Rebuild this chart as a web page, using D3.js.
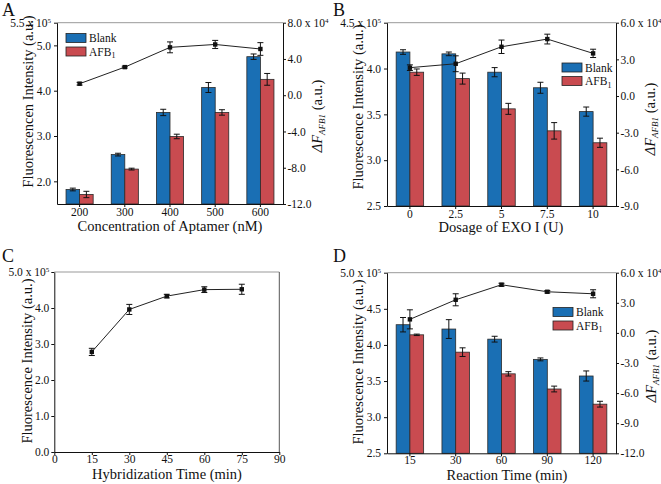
<!DOCTYPE html>
<html><head><meta charset="utf-8">
<script src="https://cdn.jsdelivr.net/npm/d3@7"></script>
<style>
body{margin:0;background:#fff;}
svg text{font-family:"Liberation Serif","DejaVu Serif","Noto Serif",serif !important;fill:#111;}
</style></head><body>
<svg id="chart" width="661" height="484" font-family="Liberation Serif, DejaVu Serif, serif"></svg>
<script>
// ---------- DATA ----------
// Panel A (x10^5 fluorescence; ΔF x10^4)
const catsA = ["200","300","400","500","600"];
const blankA = [1.82, 2.59, 3.52, 4.07, 4.75];
const blankAErr = [0.03, 0.03, 0.07, 0.11, 0.06];
const afbA = [1.71, 2.27, 2.99, 3.52, 4.25];
const afbAErr = [0.07, 0.02, 0.05, 0.06, 0.13];
const diffA = [1.27, 3.1, 5.28, 5.6, 5.1];
const diffAErr = [0.15, 0.1, 0.6, 0.45, 0.7];
const yTicksA = [2.0, 3.0, 4.0, 5.0, 5.5];
const rTicksA = [-12, -8, -4, 0, 4, 8];

// Panel B
const catsB = ["0","2.5","5","7.5","10"];
const blankB = [4.18, 4.16, 3.96, 3.79, 3.53];
const blankBErr = [0.025, 0.02, 0.05, 0.06, 0.05];
const afbB = [3.96, 3.89, 3.56, 3.32, 3.19];
const afbBErr = [0.035, 0.06, 0.06, 0.09, 0.05];
const diffB = [2.32, 2.64, 4.03, 4.66, 3.49];
const diffBErr = [0.23, 0.65, 0.55, 0.4, 0.34];
const yTicksB = [2.5, 3.0, 3.5, 4.0, 4.5];
const rTicksB = [-9, -6, -3, 0, 3, 6];

// Panel C
const timeC = [15, 30, 45, 60, 75];
const fluoC = [2.78, 3.96, 4.33, 4.51, 4.52];
const fluoCErr = [0.1, 0.14, 0.05, 0.08, 0.14];
const xTicksC = [0, 15, 30, 45, 60, 75, 90];
const yTicksC = [0.0, 1.0, 2.0, 3.0, 4.0, 5.0];

// Panel D
const catsD = ["15","30","60","90","120"];
const blankD = [4.28, 4.22, 4.08, 3.80, 3.57];
const blankDErr = [0.1, 0.13, 0.04, 0.02, 0.07];
const afbD = [4.14, 3.90, 3.60, 3.39, 3.18];
const afbDErr = [0.01, 0.06, 0.03, 0.04, 0.04];
const diffD = [1.35, 3.3, 4.8, 4.1, 3.9];
const diffDErr = [0.95, 0.6, 0.15, 0.12, 0.4];
const yTicksD = [2.5, 3.0, 3.5, 4.0, 4.5, 5.0];
const rTicksD = [-12, -9, -6, -3, 0, 3, 6];

// ---------- DRAWING ----------
const FONT = '"Liberation Serif","DejaVu Serif",serif';
const svg = d3.select("#chart");
const BLUE = "#1a6fb4", RED = "#c94b50";
const TICKFS = 11.5, TITLEFS = 14.5;

function topLabel(sel, topVal, mant, exp) {
  sel.selectAll(".tick text").filter(d => d === topVal).each(function() {
    const t = d3.select(this);
    t.text(null);
    t.append("tspan").text(mant + " x 10");
    t.append("tspan").attr("font-size", 7).attr("dy", "-0.6em").text(exp);
  });
}
function styleAxis(g) {
  g.attr("font-family", FONT);
  g.selectAll("text").attr("font-size", TICKFS).attr("font-family", FONT);
  g.selectAll("path.domain").attr("stroke", "#111").attr("stroke-width", 1);
  g.selectAll(".tick line").attr("stroke", "#111");
}
function errBar(g, x, y1, y2, col) {
  g.append("line").attr("x1", x).attr("x2", x).attr("y1", y1).attr("y2", y2).attr("stroke", col).attr("stroke-width", 1);
  g.append("line").attr("x1", x - 3).attr("x2", x + 3).attr("y1", y1).attr("y2", y1).attr("stroke", col).attr("stroke-width", 1);
  g.append("line").attr("x1", x - 3).attr("x2", x + 3).attr("y1", y2).attr("y2", y2).attr("stroke", col).attr("stroke-width", 1);
}
function yTitle(x, y, txt) {
  svg.append("text").attr("transform", `translate(${x},${y}) rotate(-90)`)
    .attr("text-anchor", "middle").attr("font-size", TITLEFS).attr("font-family", FONT).text(txt);
}
function rTitle(x, y) {
  const t = svg.append("text").attr("transform", `translate(${x},${y}) rotate(-90)`)
    .attr("text-anchor", "middle").attr("font-size", TITLEFS).attr("font-family", FONT);
  t.append("tspan").attr("font-style", "italic").text("ΔF");
  t.append("tspan").attr("font-style", "italic").attr("font-size", 9).attr("dy", 3).text("AFB1");
  t.append("tspan").attr("dy", -3).text(" (a.u.)");
}
function xTitle(x, y, txt) {
  svg.append("text").attr("x", x).attr("y", y).attr("text-anchor", "middle").attr("font-size", TITLEFS).attr("font-family", FONT).text(txt);
}
function letter(x, y, t) {
  svg.append("text").attr("x", x).attr("y", y).attr("font-size", 18).attr("font-family", FONT).text(t);
}
function legend(x, y) {
  const g = svg.append("g");
  [["Blank", BLUE], ["AFB", RED]].forEach((d, i) => {
    g.append("rect").attr("x", x).attr("y", y + i * 13.5).attr("width", 20).attr("height", 9)
      .attr("fill", d[1]).attr("stroke", "#222").attr("stroke-width", 0.8);
    const t = g.append("text").attr("x", x + 23).attr("y", y + i * 13.5 + 8.5).attr("font-size", 11.5).attr("font-family", FONT).text(d[0]);
    if (i === 1) t.append("tspan").attr("font-size", 8).attr("dy", 2.5).text("1");
  });
}

function barPanel(c) {
  const x = d3.scaleBand().domain(c.cats).range([c.x0, c.x1]).paddingInner(0.4).paddingOuter(0.2);
  const xs = d3.scaleBand().domain(["b", "a"]).range([0, x.bandwidth()]);
  const y = d3.scaleLinear().domain(c.yDom).range([c.y1, c.y0]);
  const r = d3.scaleLinear().domain(c.rDom).range([c.y1, c.y0]);
  const g = svg.append("g");
  g.append("line").attr("x1", c.x0).attr("x2", c.x1).attr("y1", c.y0).attr("y2", c.y0).attr("stroke", "#999").attr("stroke-width", 1);
  c.cats.forEach((k, i) => {
    [["b", c.blank[i], c.blankErr[i], BLUE], ["a", c.afb[i], c.afbErr[i], RED]].forEach(s => {
      const bx = x(k) + xs(s[0]);
      g.append("rect").attr("x", bx).attr("y", y(s[1])).attr("width", xs.bandwidth())
        .attr("height", y(c.yDom[0]) - y(s[1])).attr("fill", s[3]).attr("stroke", "#2a2a2a").attr("stroke-width", 0.8);
      errBar(g, bx + xs.bandwidth() / 2, y(s[1] + s[2]), y(s[1] - s[2]), "#111");
    });
  });
  const cx = k => x(k) + x.bandwidth() / 2;
  const line = d3.line().x((d, i) => cx(c.cats[i])).y(d => r(d));
  g.append("path").datum(c.diff).attr("d", line).attr("fill", "none").attr("stroke", "#222").attr("stroke-width", 1);
  c.cats.forEach((k, i) => {
    errBar(g, cx(k), r(c.diff[i] + c.diffErr[i]), r(c.diff[i] - c.diffErr[i]), "#111");
    g.append("rect").attr("x", cx(k) - 2.2).attr("y", r(c.diff[i]) - 2.2).attr("width", 4.4).attr("height", 4.4).attr("fill", "#111");
  });
  const ax = g.append("g").attr("transform", `translate(0,${c.y1})`)
    .call(d3.axisBottom(x).tickSize(3).tickPadding(c.xPad).tickSizeOuter(0));
  styleAxis(ax);
  const ay = g.append("g").attr("transform", `translate(${c.x0},0)`)
    .call(d3.axisLeft(y).tickValues(c.yTicks).tickFormat(d => d.toFixed(1)).tickSize(3).tickPadding(3).tickSizeOuter(0));
  styleAxis(ay);
  topLabel(ay, c.yDom[1], c.yDom[1].toFixed(1), "5");
  const ar = g.append("g").attr("transform", `translate(${c.x1},0)`)
    .call(d3.axisRight(r).tickValues(c.rTicks).tickFormat(d => d.toFixed(1)).tickSize(3).tickPadding(1.5).tickSizeOuter(0));
  styleAxis(ar);
  topLabel(ar, c.rDom[1], c.rDom[1].toFixed(1), "4");
}

// Panel A
barPanel({x0: 57, x1: 283, y0: 22.7, y1: 204, cats: catsA, blank: blankA, blankErr: blankAErr,
  afb: afbA, afbErr: afbAErr, diff: diffA, diffErr: diffAErr, yDom: [1.5, 5.5], yTicks: yTicksA,
  rDom: [-12, 8], rTicks: rTicksA, xPad: 1});
legend(66, 33.5);
letter(2, 15.5, "A");
xTitle(170, 231, "Concentration of Aptamer (nM)");
yTitle(33, 101.5, "Fluorescencen Intensity (a.u.)");
rTitle(322, 116);

// Panel B
barPanel({x0: 387, x1: 616, y0: 22.7, y1: 206, cats: catsB, blank: blankB, blankErr: blankBErr,
  afb: afbB, afbErr: afbBErr, diff: diffB, diffErr: diffBErr, yDom: [2.5, 4.5], yTicks: yTicksB,
  rDom: [-9, 6], rTicks: rTicksB, xPad: 1});
legend(562, 63);
letter(333, 15.5, "B");
xTitle(501, 232, "Dosage of EXO I (U)");
yTitle(363, 107, "Fluorescence Intensity (a.u.)");
rTitle(655, 119);

// Panel C
(function() {
  const x0 = 54.3, x1 = 279.3, y0 = 272, y1 = 452;
  const x = d3.scaleLinear().domain([0, 90]).range([x0, x1]);
  const y = d3.scaleLinear().domain([0, 5]).range([y1, y0]);
  const g = svg.append("g");
  g.append("line").attr("x1", x0).attr("x2", x1).attr("y1", y0).attr("y2", y0).attr("stroke", "#999");
  g.append("line").attr("x1", x1).attr("x2", x1).attr("y1", y0).attr("y2", y1).attr("stroke", "#555");
  g.append("path").datum(fluoC).attr("d", d3.line().x((d, i) => x(timeC[i])).y(d => y(d)))
    .attr("fill", "none").attr("stroke", "#222").attr("stroke-width", 1);
  timeC.forEach((t, i) => {
    errBar(g, x(t), y(fluoC[i] + fluoCErr[i]), y(fluoC[i] - fluoCErr[i]), "#111");
    g.append("rect").attr("x", x(t) - 2.2).attr("y", y(fluoC[i]) - 2.2).attr("width", 4.4).attr("height", 4.4).attr("fill", "#111");
  });
  const ax = g.append("g").attr("transform", `translate(0,${y1})`)
    .call(d3.axisBottom(x).tickValues(xTicksC).tickFormat(d3.format("d")).tickSize(3).tickPadding(0).tickSizeOuter(0));
  styleAxis(ax);
  const ay = g.append("g").attr("transform", `translate(${x0},0)`)
    .call(d3.axisLeft(y).tickValues(yTicksC).tickFormat(d => d.toFixed(1)).tickSize(3).tickPadding(2).tickSizeOuter(0));
  styleAxis(ay);
  topLabel(ay, 5, "5.0", "5");
})();
letter(2, 262, "C");
xTitle(167, 479, "Hybridization Time (min)");
yTitle(32, 361, "Fluorescence Intensity (a.u.)");

// Panel D
barPanel({x0: 387, x1: 616, y0: 272.7, y1: 453.3, cats: catsD, blank: blankD, blankErr: blankDErr,
  afb: afbD, afbErr: afbDErr, diff: diffD, diffErr: diffDErr, yDom: [2.5, 5.0], yTicks: yTicksD,
  rDom: [-12, 6], rTicks: rTicksD, xPad: 0});
legend(553, 307.5);
letter(333, 262, "D");
xTitle(507, 479.5, "Reaction Time (min)");
yTitle(363, 362, "Fluorescence Intensity (a.u.)");
rTitle(656, 366);
</script></body></html>
